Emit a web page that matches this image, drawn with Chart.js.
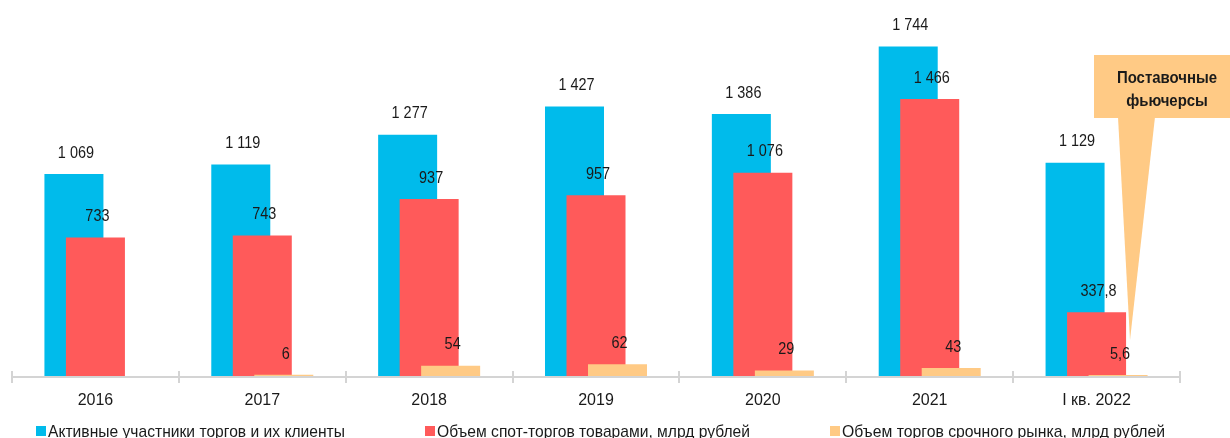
<!DOCTYPE html>
<html>
<head>
<meta charset="utf-8">
<script src="https://cdn.jsdelivr.net/npm/chart.js@4.4.1/dist/chart.umd.min.js"></script>
<style>
  html, body { margin: 0; padding: 0; background: #ffffff; }
  #wrap { width: 1230px; height: 438px; position: relative; }
</style>
</head>
<body>
<div id="wrap"><canvas id="c" width="1230" height="438"></canvas></div>
<script>
const categories = ['2016', '2017', '2018', '2019', '2020', '2021', 'I кв. 2022'];
const participants = [1069, 1119, 1277, 1427, 1386, 1744, 1129];
const spotVolume = [733, 743, 937, 957, 1076, 1466, 337.8];
const derivativesVolume = [null, 6, 54, 62, 29, 43, 5.6];
const seriesNames = [
  'Активные участники торгов и их клиенты',
  'Объем спот-торгов товарами, млрд рублей',
  'Объем торгов срочного рынка, млрд рублей'
];
const calloutLines = ['Поставочные', 'фьючерсы'];

const COLORS = ['#00BBEB', '#FF5A5A', '#FFCA85'];
const FONT = "'Liberation Sans', Arial, sans-serif";
const TEXT = '#1a1a1a';

function fmt(v) {
  const s = String(v).split('.');
  const intPart = s[0].replace(/\B(?=(\d{3})+(?!\d))/g, ' ');
  return s.length > 1 ? intPart + ',' + s[1] : intPart;
}

function squeezeText(ctx, text, x, y, k) {
  const w = ctx.measureText(text).width;
  ctx.fillText(text, x, y, w * k);
}

const axisPlugin = {
  id: 'axisPlugin',
  beforeDatasetsDraw(chart) {
    const ctx = chart.ctx, area = chart.chartArea;
    ctx.save();
    ctx.strokeStyle = '#d4d4d4';
    ctx.lineWidth = 2;
    ctx.beginPath();
    ctx.moveTo(area.left, area.bottom + 1);
    ctx.lineTo(area.right, area.bottom + 1);
    ctx.stroke();
    const w = (area.right - area.left) / categories.length;
    for (let i = 0; i <= categories.length; i++) {
      const px = Math.round(area.left + i * w);
      ctx.beginPath();
      ctx.moveTo(px, area.bottom - 5);
      ctx.lineTo(px, area.bottom + 7);
      ctx.stroke();
    }
    ctx.restore();
  }
};

// draw overlapping bars so that later datasets sit on top of earlier ones
const orderPlugin = {
  id: 'orderPlugin',
  beforeDatasetDraw() { return false; },
  afterDatasetsDraw(chart) {
    const ctx = chart.ctx, area = chart.chartArea;
    ctx.save();
    ctx.beginPath();
    ctx.rect(area.left, area.top, area.right - area.left, area.bottom - area.top);
    ctx.clip();
    chart.data.datasets.forEach((ds, di) => {
      const meta = chart.getDatasetMeta(di);
      if (meta.visible !== false) meta.controller.draw();
    });
    ctx.restore();
  }
};

const labelPlugin = {
  id: 'labelPlugin',
  afterDatasetsDraw(chart) {
    const ctx = chart.ctx;
    ctx.save();
    // callout
    ctx.fillStyle = '#FFCA85';
    ctx.fillRect(1094, 55, 136, 63);
    ctx.beginPath();
    ctx.moveTo(1118, 117);
    ctx.lineTo(1155, 117);
    ctx.lineTo(1130, 340);
    ctx.closePath();
    ctx.fill();
    ctx.fillStyle = TEXT;
    ctx.font = "bold 17px " + FONT;
    ctx.textAlign = 'center';
    ctx.textBaseline = 'middle';
    squeezeText(ctx, calloutLines[0], 1167, 78, 0.88);
    squeezeText(ctx, calloutLines[1], 1167, 101, 0.88);
    // value labels
    ctx.font = "17px " + FONT;
    chart.data.datasets.forEach((ds, di) => {
      const meta = chart.getDatasetMeta(di);
      meta.data.forEach((el, i) => {
        const v = ds.data[i];
        if (v === null || v === undefined) return;
        squeezeText(ctx, fmt(v), el.x + 2, el.y - 21, 0.85);
      });
    });
    ctx.restore();
  },
  afterDraw(chart) {
    const ctx = chart.ctx;
    ctx.save();
    ctx.font = "17px " + FONT;
    ctx.textAlign = 'left';
    ctx.textBaseline = 'alphabetic';
    const starts = [36, 425, 830];
    const widths = [297, 313, 323];
    seriesNames.forEach((name, i) => {
      ctx.fillStyle = COLORS[i];
      ctx.fillRect(starts[i], 426, 10, 10);
      ctx.fillStyle = TEXT;
      ctx.fillText(name, starts[i] + 12, 437, widths[i]);
    });
    ctx.restore();
  }
};

new Chart(document.getElementById('c'), {
  type: 'bar',
  data: {
    labels: categories,
    datasets: [
      { label: seriesNames[0], data: participants, backgroundColor: COLORS[0] },
      { label: seriesNames[1], data: spotVolume, backgroundColor: COLORS[1] },
      { label: seriesNames[2], data: derivativesVolume, backgroundColor: COLORS[2] }
    ]
  },
  options: {
    responsive: false,
    animation: false,
    devicePixelRatio: 1,
    layout: { padding: { left: 12, right: 50, top: 0, bottom: 0 } },
    datasets: { bar: { categoryPercentage: 0.3866, barPercentage: 2.744 } },
    plugins: { legend: { display: false }, tooltip: { enabled: false } },
    scales: {
      x: {
        grid: { display: false, drawTicks: false },
        border: { display: false },
        ticks: { color: TEXT, font: { family: FONT, size: 16 }, padding: 15, maxRotation: 0, autoSkip: false },
        afterFit(scale) { scale.height = 62; }
      },
      y: { display: false, min: 0, max: 1990 }
    }
  },
  plugins: [axisPlugin, orderPlugin, labelPlugin]
});
</script>
</body>
</html>
